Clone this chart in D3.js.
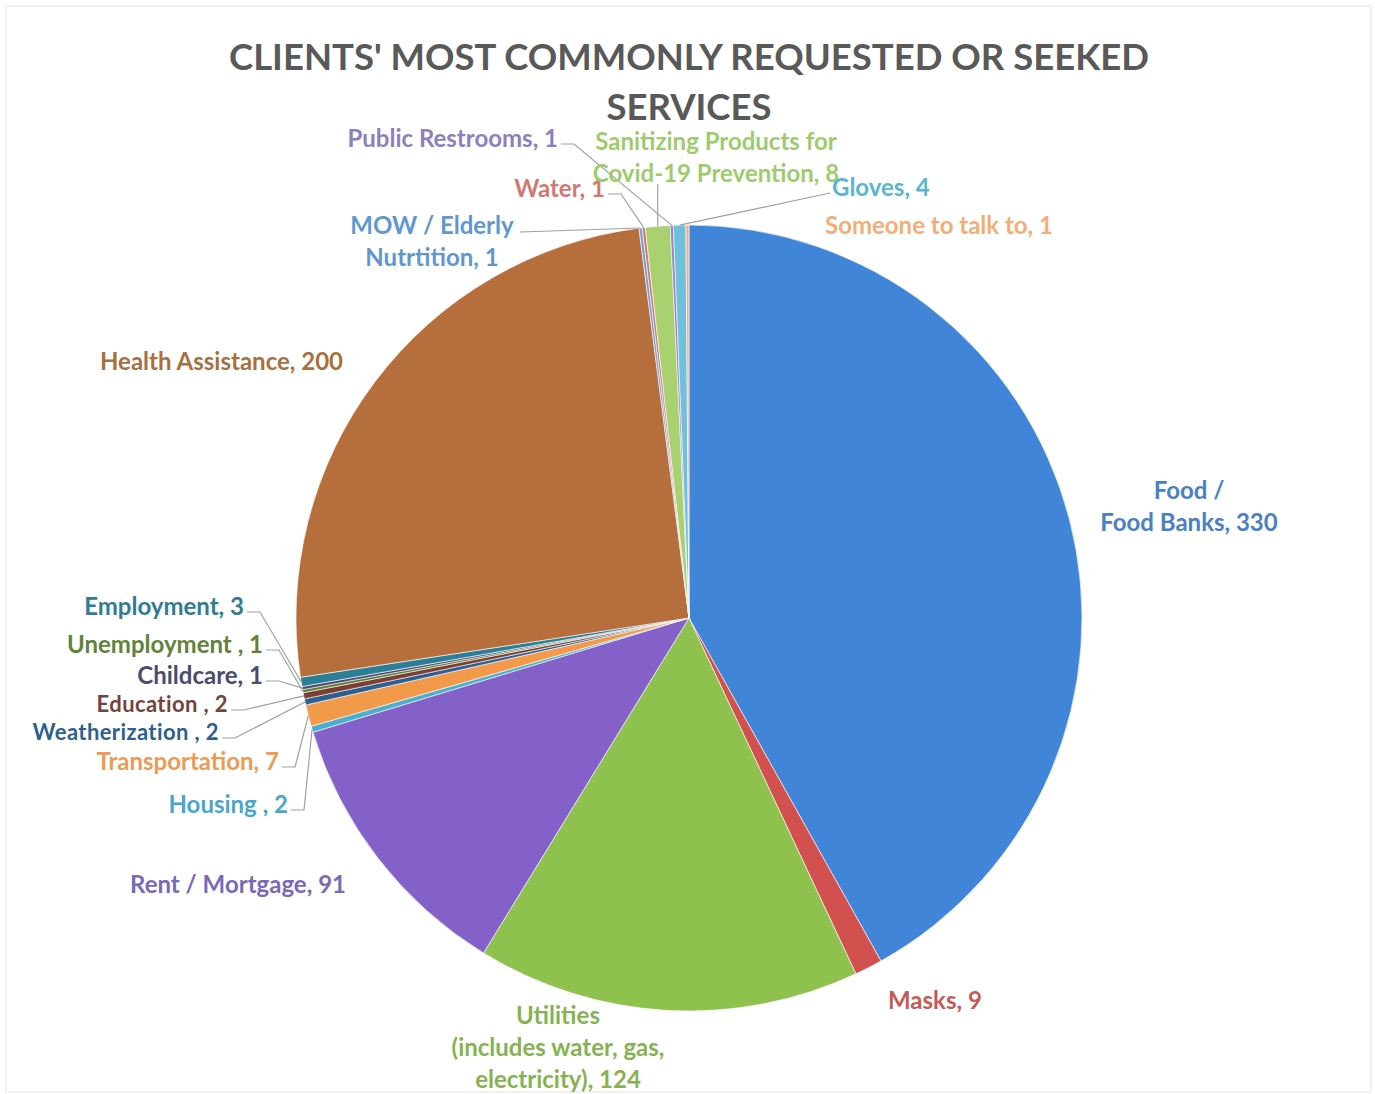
<!DOCTYPE html>
<html><head><meta charset="utf-8">
<script src="https://cdn.jsdelivr.net/npm/d3@7"></script>
<style>
html,body{margin:0;padding:0;background:#fff;}
svg text{font-family:Lato,"Open Sans",sans-serif;font-weight:bold;}
</style></head>
<body>
<svg id="chart" width="1375" height="1094"></svg>
<script>
// ---- data (clockwise from 12 o'clock) ----
const categories = ["Food / Food Banks","Masks","Utilities (includes water, gas, electricity)","Rent / Mortgage","Housing ","Transportation","Weatherization ","Education ","Unemployment ","Childcare","Employment","Health Assistance","MOW / Elderly Nutrtition","Water","Sanitizing Products for Covid-19 Prevention","Public Restrooms","Gloves","Someone to talk to"];
const values = [330,9,124,91,2,7,2,2,1,1,3,200,1,1,8,1,4,1];
const sliceColors = ["#4185d9","#d2504e","#8fc14f","#8361c9","#4aaed0","#f39a4a","#2d5f92","#7a3f34","#5f7d32","#4d4672","#2a7f96","#b56e3c","#6fa0d8","#d17a76","#a9d170","#9a86c4","#6fc0dc","#f8b07a"];
const labelColors = ["#4a80c4","#c65a57","#86b352","#7a68b8","#4aa6cc","#ee9a55","#2f5f8e","#74433b","#62823a","#4d4a70","#2f7d93","#aa6f3f","#5f97d1","#d27873","#9fcb6f","#8d80bd","#5ab5d4","#f3ad78"];
const labelLines = [["Food /","Food Banks, 330"],["Masks, 9"],["Utilities","(includes water, gas,","electricity), 124"],["Rent / Mortgage, 91"],["Housing , 2"],["Transportation, 7"],["Weatherization , 2"],["Education , 2"],["Unemployment , 1"],["Childcare, 1"],["Employment, 3"],["Health Assistance, 200"],["MOW / Elderly","Nutrtition, 1"],["Water, 1"],["Sanitizing Products for","Covid-19 Prevention, 8"],["Public Restrooms, 1"],["Gloves, 4"],["Someone to talk to, 1"]];
const titleLines = ["CLIENTS' MOST COMMONLY REQUESTED OR SEEKED","SERVICES"];

// ---- layout ----
const W = 1375, H = 1094, cx = 689, cy = 618, R = 393;
const labelLayout = [
  {x:1189,y:489,a:"middle"},
  {x:888,y:999,a:"start"},
  {x:558,y:1014,a:"middle"},
  {x:130,y:883,a:"start"},
  {x:288,y:803,a:"end",lead:true},
  {x:279,y:760,a:"end",lead:true},
  {x:219,y:731,a:"end",lead:true,fs:22},
  {x:228,y:703,a:"end",lead:true,fs:22},
  {x:263,y:643,a:"end",lead:true},
  {x:263,y:674,a:"end",lead:true},
  {x:244,y:605,a:"end",lead:true},
  {x:100,y:360,a:"start"},
  {x:432,y:224,a:"middle",lead:"mow"},
  {x:605,y:187,a:"end",lead:true},
  {x:716,y:140,a:"middle",lead:"vert"},
  {x:558,y:137,a:"end",lead:true},
  {x:832,y:186,a:"start",lead:"start"},
  {x:825,y:224,a:"start"}
];
const lineH = 32, fs = 24;

const svg = d3.select("#chart");
svg.append("rect").attr("x",6).attr("y",6).attr("width",W-10).attr("height",H-8)
  .attr("fill","#fff").attr("stroke","#ececec").attr("stroke-width",1.5);

// title
svg.append("g").selectAll("text").data(titleLines).join("text")
  .attr("x",cx).attr("y",(d,i)=>70+i*50).attr("text-anchor","middle")
  .attr("font-size",36.5).attr("fill","#595959").text(d=>d);

const data = categories.map((c,i)=>({c,v:values[i],i}));
const pie = d3.pie().value(d=>d.v).sort(null).startAngle(0).endAngle(2*Math.PI);
const arcs = pie(data);
const arc = d3.arc().innerRadius(0).outerRadius(R);

const g = svg.append("g").attr("transform",`translate(${cx},${cy})`);
g.selectAll("path").data(arcs).join("path")
  .attr("d",arc).attr("fill",d=>sliceColors[d.data.i])
  .attr("stroke","#fff").attr("stroke-width",0.6);

// leader lines
const leadG = svg.append("g").attr("fill","none").attr("stroke","#a0a0a0").attr("stroke-width",1.2);
arcs.forEach(d=>{
  const L = labelLayout[d.data.i];
  if(!L.lead) return;
  const mid = (d.startAngle+d.endAngle)/2;
  const px = cx + Math.sin(mid)*R, py = cy - Math.cos(mid)*R;
  let pts;
  if(L.lead==="vert"){
    const yb = L.y + lineH + 12;
    pts = [[px,yb],[px,py]];
  } else if(L.lead==="mow"){
    pts = [[L.x+88,L.y+8],[px,py]];
  } else if(L.lead==="start"){
    pts = [[L.x-2,L.y+7],[px,py]];
  } else {
    const y0 = L.y+7;
    pts = [[L.x+3,y0],[L.x+16,y0],[px,py]];
  }
  leadG.append("path").attr("d",d3.line()(pts));
});

// labels
const lab = svg.append("g");
arcs.forEach(d=>{
  const i = d.data.i, L = labelLayout[i];
  const t = lab.append("text").attr("text-anchor",L.a).attr("font-size",L.fs||fs)
    .attr("letter-spacing",L.fs?0.4:0)
    .attr("fill",labelColors[i]).attr("dominant-baseline","central");
  labelLines[i].forEach((s,k)=>{
    t.append("tspan").attr("x",L.x).attr("y",L.y+k*lineH).text(s);
  });
});
</script>
</body></html>
